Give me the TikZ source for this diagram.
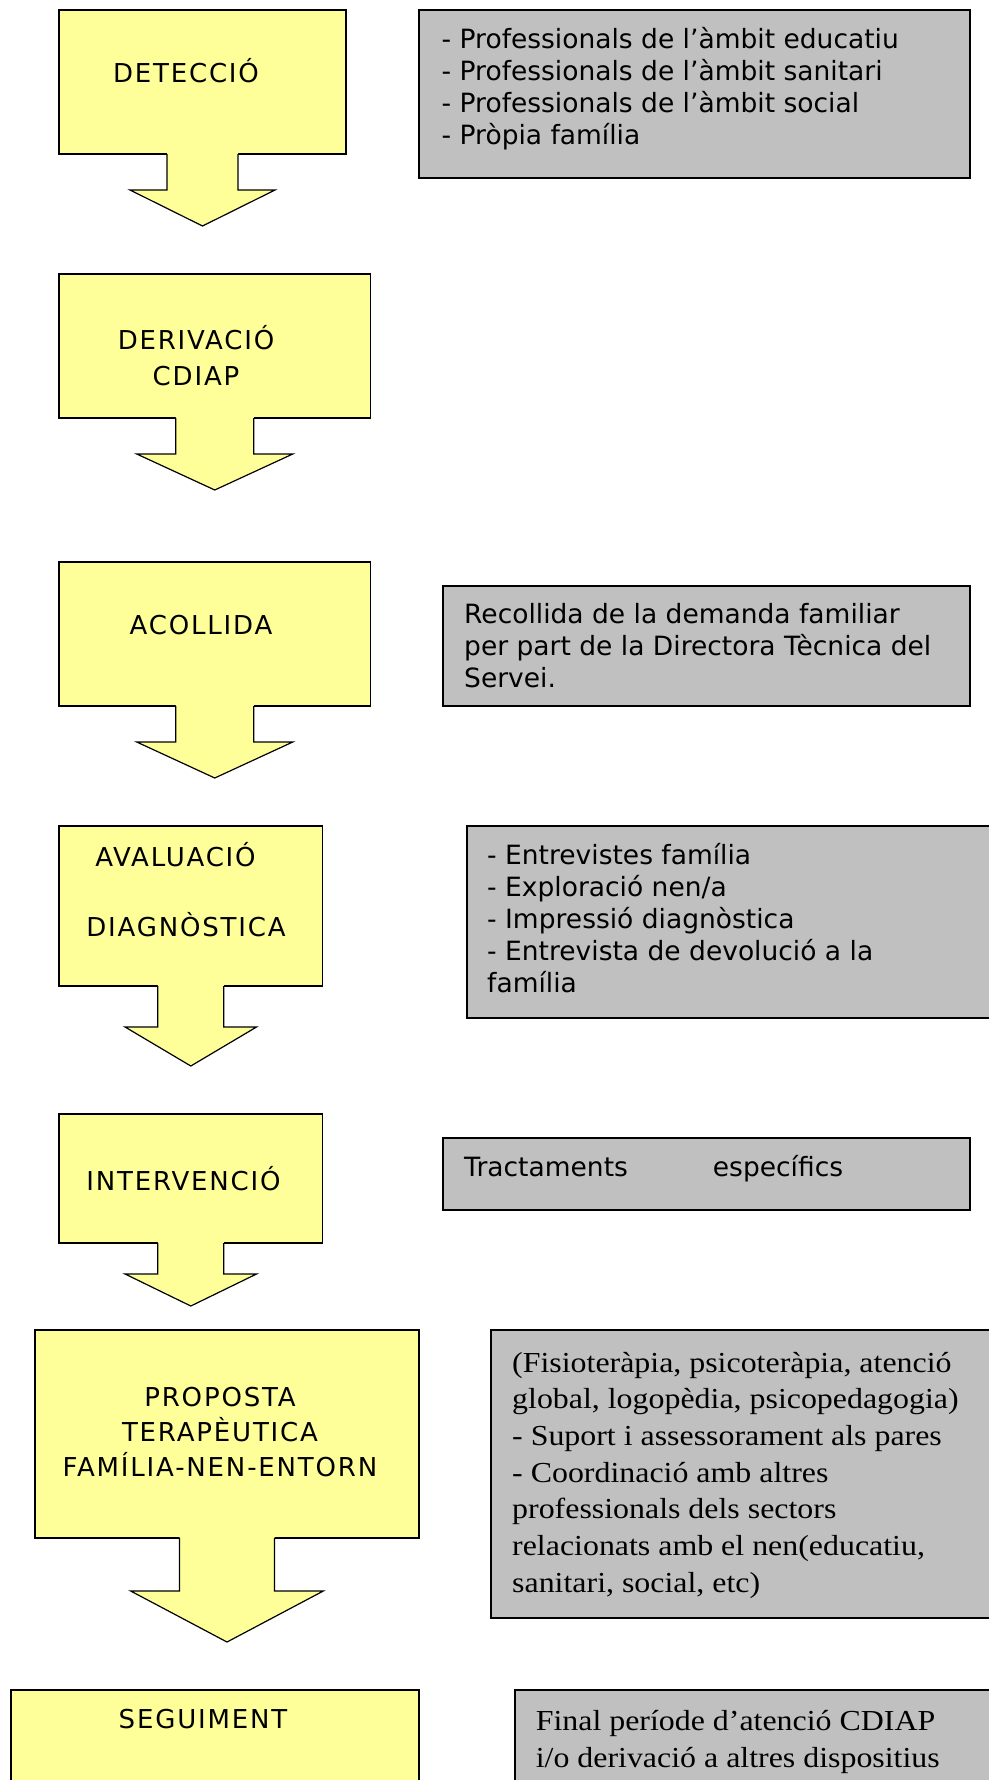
\documentclass[tikz,border=0pt]{standalone}
\usepackage{fontspec}
\newfontfamily\labelfont[LetterSpace=7]{DejaVu Sans}
\newfontfamily\notefont{DejaVu Sans}
\newfontfamily\noteserif[FakeStretch=1.1]{Liberation Serif}
\definecolor{stepyellow}{HTML}{FFFF99}
\definecolor{notegrey}{HTML}{C0C0C0}

\tikzset{
  stepbox/.style={draw=black, line width=1.6pt, fill=stepyellow, anchor=north west, inner sep=0pt, outer sep=0pt},
  notebox/.style={draw=black, line width=1.8pt, fill=notegrey, anchor=north west, inner sep=0pt, outer sep=0pt},
  arrowline/.style={draw=black, line width=1.2pt, line join=miter},
  steplabel/.style={font=\labelfont\fontsize{26}{35.3}\selectfont, anchor=base, inner sep=0pt, align=center},
  notesans/.style={font=\notefont\fontsize{26.5}{32}\selectfont, anchor=base west, inner sep=0pt, align=left},
  noteserif/.style={font=\noteserif\fontsize{29}{36.7}\selectfont, anchor=base west, inner sep=0pt, align=left},
}

% down arrow hanging under a step box:
% #1 box, #2 shaft half width, #3 shaft length, #4 head half width, #5 head length
\newcommand{\flowarrow}[5]{%
  \fill[stepyellow] ([xshift=-#2pt, yshift=2pt]#1.south) -- ++(0,#3+2)
    -- ++({-(#4-#2)},0) -- ++(#4,#5) -- ++(#4,-#5) -- ++({-(#4-#2)},0)
    -- ++(0,{-(#3+2)}) -- cycle;
  \draw[arrowline] ([xshift=-#2pt]#1.south) -- ++(0,#3)
    -- ++({-(#4-#2)},0) -- ++(#4,#5) -- ++(#4,-#5) -- ++({-(#4-#2)},0)
    -- ++(0,-#3);
}

\begin{document}
\begin{tikzpicture}[x=1pt, y=-1pt]
\useasboundingbox (0,0) rectangle (988,1780);

% process steps
\node[stepbox, minimum width=287pt, minimum height=144pt] (detect) at (59,10) {};
\node[stepbox, minimum width=311.5pt, minimum height=144pt] (deriv) at (59,274) {};
\node[stepbox, minimum width=311.5pt, minimum height=144pt] (acoll) at (59,562) {};
\node[stepbox, minimum width=263.6pt, minimum height=160pt] (aval) at (59,826) {};
\node[stepbox, minimum width=263.6pt, minimum height=129pt] (interv) at (59,1114) {};
\node[stepbox, minimum width=384pt, minimum height=208pt] (prop) at (35,1330) {};
\node[stepbox, minimum width=408pt, minimum height=110pt] (segui) at (11,1690) {};

\flowarrow{detect}{35.5}{36}{72.5}{36}
\flowarrow{deriv}{39}{36}{78}{36}
\flowarrow{acoll}{39}{36}{78}{36}
\flowarrow{aval}{33}{41}{65.7}{39}
\flowarrow{interv}{33}{31}{65.7}{32}
\flowarrow{prop}{47.5}{53}{96.3}{51}

% side notes
\node[notebox, minimum width=551pt, minimum height=168pt] (detectnote) at (419,10) {};
\node[notebox, minimum width=527pt, minimum height=120pt] (acollnote) at (443,586) {};
\node[notebox, minimum width=540pt, minimum height=192pt] (avalnote) at (467,826) {};
\node[notebox, minimum width=527pt, minimum height=72pt] (intervnote) at (443,1138) {};
\node[notebox, minimum width=520pt, minimum height=288pt] (propnote) at (491,1330) {};
\node[notebox, minimum width=490pt, minimum height=110pt] (seguinote) at (515,1690) {};

% step labels (multi-line labels sit on their last baseline)
\node[steplabel] (detectlbl) at (186,82) {DETECCIÓ};
\node[steplabel] (derivlbl) at (196,385) {DERIVACIÓ\\CDIAP};
\node[steplabel] (acolllbl) at (201,634) {ACOLLIDA};
\node[steplabel] (avallbl) at (175.5,866) {AVALUACIÓ};
\node[steplabel] (diaglbl) at (186,936.7) {DIAGNÒSTICA};
\node[steplabel] (intervlbl) at (183.5,1190) {INTERVENCIÓ};
\node[steplabel] (proplbl) at (220,1476.7) {PROPOSTA\\TERAPÈUTICA\\FAMÍLIA-NEN-ENTORN};
\node[steplabel] (seguilbl) at (203,1728) {SEGUIMENT};

% note texts (placed by the baseline of their last line)
\node[notesans] (detecttxt) at (441.5,144.7) {- Professionals de l’àmbit educatiu\\- Professionals de l’àmbit sanitari\\- Professionals de l’àmbit social\\- Pròpia família};
\node[notesans] (acolltxt) at (464,687) {Recollida de la demanda familiar\\per part de la Directora Tècnica del\\Servei.};
\node[notesans] (avaltxt) at (487,992) {- Entrevistes família\\- Exploració nen/a\\- Impressió diagnòstica\\- Entrevista de devolució a la\\família};
\node[notesans] (intervtxt) at (464,1176) {Tractaments\hspace{85pt}específics};
\node[noteserif] (proptxt) at (512,1592.2) {(Fisioteràpia, psicoteràpia, atenció\\global, logopèdia, psicopedagogia)\\- Suport i assessorament als pares\\- Coordinació amb altres\\professionals dels sectors\\relacionats amb el nen(educatiu,\\sanitari, social, etc)};
\node[noteserif, font=\noteserif\fontsize{29}{37}\selectfont] (seguitxt) at (535.6,1767) {Final període d’atenció CDIAP\\i/o derivació a altres dispositius};
\end{tikzpicture}
\end{document}
